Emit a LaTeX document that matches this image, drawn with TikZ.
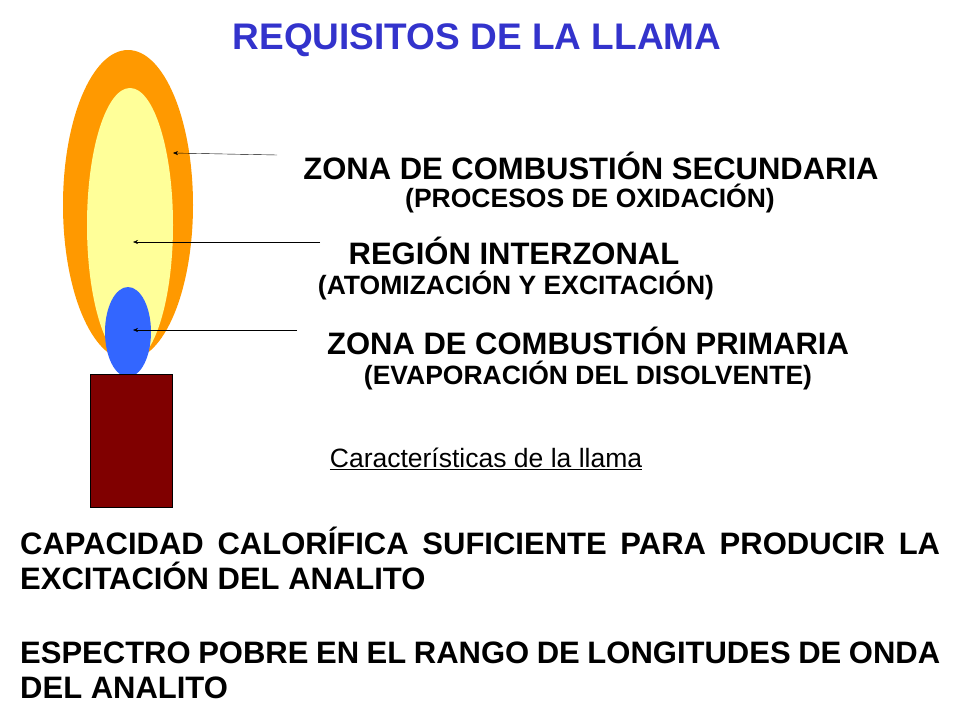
\documentclass[tikz,border=0pt]{standalone}
\usepackage{fontspec}
\usetikzlibrary{arrows.meta}
\setmainfont{Liberation Sans}
\definecolor{ttl}{HTML}{3333CC}
\definecolor{flout}{HTML}{FF9900}
\definecolor{flin}{HTML}{FFFF99}
\definecolor{flblue}{HTML}{3366FF}
\definecolor{cand}{HTML}{800000}
\begin{document}
\begin{tikzpicture}[x=1pt,y=-1pt,
  lbl/.style={font=\fontsize{31}{34}\selectfont\bfseries,inner sep=0pt},
  sub/.style={font=\fontsize{26.5}{30}\selectfont\bfseries,inner sep=0pt},
  para/.style={font=\fontsize{31}{35}\selectfont\bfseries,text width=920pt,align=justify,inner sep=0pt,anchor=north west},
  arr/.style={-{Stealth[length=5pt,width=4pt]},thin}]
\useasboundingbox (0,0) rectangle (960,720);
\node[font=\fontsize{37}{40}\selectfont\bfseries,text=ttl] (title) at (477,40) {REQUISITOS DE LA LLAMA};
\fill[flout] (128,205) ellipse [x radius=65, y radius=155];
\fill[flin] (130,225) ellipse [x radius=43, y radius=137];
\fill[flblue] (128,332) ellipse [x radius=23, y radius=45];
\node[draw=black,fill=cand,minimum width=82pt,minimum height=133pt,inner sep=0pt] (candle) at (131,441) {};
\coordinate (t1) at (173,153); \coordinate (t2) at (133,242); \coordinate (t3) at (133,330);
\coordinate (s1) at (277,155); \coordinate (s2) at (320,242); \coordinate (s3) at (297,330);
\draw[arr] (s1) -- (t1);
\draw[arr] (s2) -- (t2);
\draw[arr] (s3) -- (t3);
\node[lbl] (l1) at (591,166) {ZONA DE COMBUSTIÓN SECUNDARIA};
\node[sub] (l1s) at (590,199) {(PROCESOS DE OXIDACIÓN)};
\node[lbl] (l2) at (514,251) {REGIÓN INTERZONAL};
\node[sub] (l2s) at (516,286) {(ATOMIZACIÓN Y EXCITACIÓN)};
\node[lbl] (l3) at (588,341) {ZONA DE COMBUSTIÓN PRIMARIA};
\node[sub] (l3s) at (588,376) {(EVAPORACIÓN DEL DISOLVENTE)};
\node[font=\fontsize{26.5}{30}\selectfont,inner sep=0pt] (car) at (486,459) {\underline{Características de la llama}};
\node[para] (p1) at (20,527) {CAPACIDAD CALORÍFICA SUFICIENTE PARA PRODUCIR LA EXCITACIÓN DEL ANALITO};
\node[para] (p2) at (20,642) {ESPECTRO POBRE EN EL RANGO DE LONGITUDES DE ONDA DEL ANALITO};
\end{tikzpicture}
\end{document}
